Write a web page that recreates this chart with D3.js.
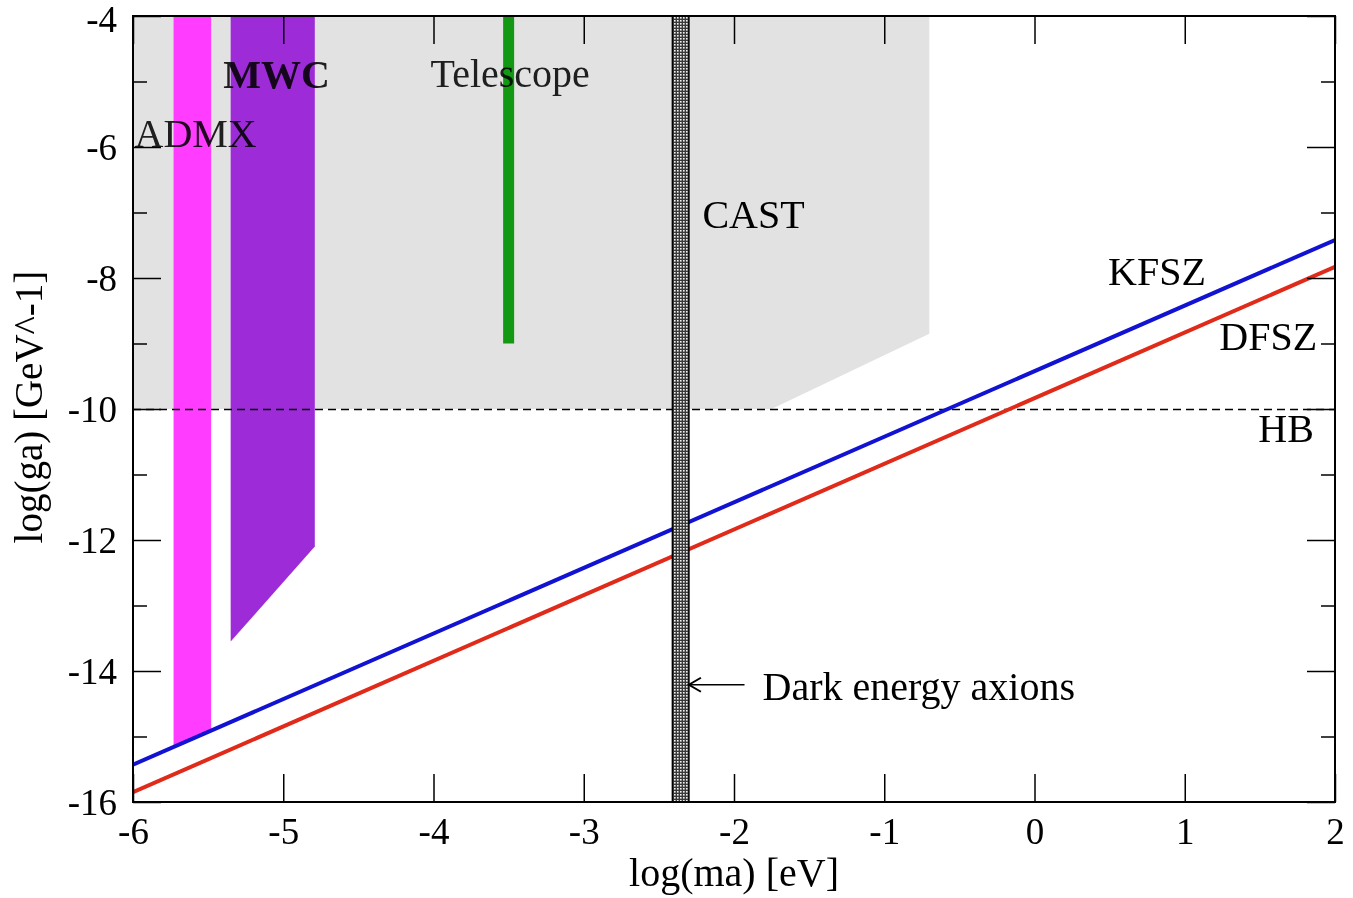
<!DOCTYPE html>
<html>
<head>
<meta charset="utf-8">
<script src="https://cdn.jsdelivr.net/npm/d3@7"></script>
<style>
  html, body { margin: 0; padding: 0; background: #fff; }
  svg { display: block; font-family: "Liberation Serif", "Times New Roman", serif; }
</style>
</head>
<body>
<div id="chart"></div>
<script>
// axis ticks
const xTickValues = [-6, -5, -4, -3, -2, -1, 0, 1, 2];
const yMajorTicks = [-4, -6, -8, -10, -12, -14, -16];
const yMinorTicks = [-5, -7, -9, -11, -13, -15];

// coupling lines, y = log(ga) at the two ends of the x range
const lineX = [-6, 2];
const ksvzY = [-15.43, -7.42];
const dfszY = [-15.85, -7.83];

// excluded regions (polygon vertices, data units)
const castX = [-6, -0.7, -0.7, -1.75, -6];
const castY = [-4, -4, -8.85, -10, -10];
const admxX = [-5.73, -5.48, -5.48, -5.73];
const admxY = [-4, -4, -14.9, -15.15];
const mwcX = [-5.35, -4.79, -4.79, -5.35];
const mwcY = [-4, -4, -12.1, -13.55];
const telescopeX = [-3.5, -3.5];
const telescopeY = [-4, -9];
const darkEnergyX = [-2.41, -2.30];
const hbY = -10;

// annotations: text, x, y (baseline, data units)
const labelText = ["ADMX", "MWC", "Telescope", "CAST", "KFSZ", "DFSZ", "HB", "Dark energy axions"];
const labelX = [-5.99, -5.40, -4.02, -2.21, 0.49, 1.23, 1.49, -1.81];
const labelY = [-6.0, -5.10, -5.08, -7.24, -8.11, -9.10, -10.50, -14.44];
const arrowX = [-1.93, -2.30];
const arrowY = -14.21;

const width = 1353, height = 898;
const margin = { top: 16, right: 18, bottom: 96, left: 133 };
const innerW = width - margin.left - margin.right;
const innerH = height - margin.top - margin.bottom;

const svg = d3.select("#chart").append("svg")
    .attr("width", width)
    .attr("height", height);

const defs = svg.append("defs");
const pat = defs.append("pattern")
    .attr("id", "checker")
    .attr("width", 3).attr("height", 3)
    .attr("patternUnits", "userSpaceOnUse");
pat.append("rect").attr("width", 3).attr("height", 3).attr("fill", "#3a3a3a");
pat.append("rect").attr("x", 1).attr("y", 1).attr("width", 1.6).attr("height", 1.6).attr("fill", "#f2f2f2");

defs.append("clipPath").attr("id", "plotclip")
    .append("rect").attr("width", innerW).attr("height", innerH);

const g = svg.append("g").attr("transform", `translate(${margin.left},${margin.top})`);

const x = d3.scaleLinear().domain([-6, 2]).range([0, innerW]);
const y = d3.scaleLinear().domain([-16, -4]).range([innerH, 0]);

const plot = g.append("g").attr("clip-path", "url(#plotclip)");

const poly = (xs, ys) => xs.map((v, i) => [x(v), y(ys[i])]);
const area = d3.line();

// grey excluded area
plot.append("path").attr("d", area(poly(castX, castY)) + "Z").attr("fill", "#e2e2e2");

const labels = labelText.map((t, i) => ({ t, x: labelX[i], y: labelY[i] }));

plot.append("path").attr("d", area(poly(admxX, admxY)) + "Z").attr("fill", "#ff3cff");
plot.append("path").attr("d", area(poly(mwcX, mwcY)) + "Z").attr("fill", "#9e2bd8");
plot.append("line")
    .attr("x1", x(telescopeX[0])).attr("x2", x(telescopeX[1]))
    .attr("y1", y(telescopeY[0])).attr("y2", y(telescopeY[1]))
    .attr("stroke", "#129812").attr("stroke-width", 11);

// HB dashed limit
plot.append("line")
    .attr("x1", 0).attr("x2", innerW)
    .attr("y1", Math.round(y(hbY)) + 0.5).attr("y2", Math.round(y(hbY)) + 0.5)
    .attr("stroke", "#000").attr("stroke-width", 1.3)
    .attr("stroke-dasharray", "8,5");

// KSVZ / DFSZ lines
const line = d3.line().x(d => x(d[0])).y(d => y(d[1]));
plot.append("path").datum(lineX.map((v, i) => [v, ksvzY[i]]))
    .attr("d", line).attr("fill", "none").attr("stroke", "#1212d2").attr("stroke-width", 4);
plot.append("path").datum(lineX.map((v, i) => [v, dfszY[i]]))
    .attr("d", line).attr("fill", "none").attr("stroke", "#e02a1a").attr("stroke-width", 4);

// dark energy axion band
plot.append("rect")
    .attr("x", x(darkEnergyX[0]))
    .attr("width", x(darkEnergyX[1]) - x(darkEnergyX[0]))
    .attr("y", 0).attr("height", innerH)
    .attr("fill", "url(#checker)")
    .attr("stroke", "#000").attr("stroke-width", 1.5);

// labels (the ones over coloured bands take a tint, as in the original)
g.selectAll("text.lbl").data(labels).enter().append("text")
    .attr("class", "lbl")
    .attr("x", d => x(d.x)).attr("y", d => y(d.y))
    .attr("font-size", 40)
    .attr("font-weight", d => d.t === "MWC" ? "bold" : "normal")
    .attr("fill", d => ["ADMX", "MWC", "Telescope"].includes(d.t) ? "#222" : "#000")
    .style("mix-blend-mode", d => ["ADMX", "MWC", "Telescope"].includes(d.t) ? "multiply" : null)
    .text(d => d.t);

// arrow to the dark energy band
g.append("line")
    .attr("x1", x(arrowX[0])).attr("x2", x(arrowX[1]))
    .attr("y1", y(arrowY)).attr("y2", y(arrowY))
    .attr("stroke", "#000").attr("stroke-width", 1.5);
g.append("path")
    .attr("d", `M${x(arrowX[1]) + 12},${y(arrowY) - 7}L${x(arrowX[1])},${y(arrowY)}L${x(arrowX[1]) + 12},${y(arrowY) + 7}`)
    .attr("fill", "none").attr("stroke", "#000").attr("stroke-width", 2);

// ticks, drawn inward on all four sides
const major = 28, minor = 14;
const xAxisB = g.append("g").attr("transform", `translate(0,${innerH})`)
    .call(d3.axisBottom(x).tickValues(xTickValues).tickSize(-major).tickFormat(d3.format("d")));
const xAxisT = g.append("g")
    .call(d3.axisTop(x).tickValues(xTickValues).tickSize(-major).tickFormat(""));
const yAxisL = g.append("g")
    .call(d3.axisLeft(y).tickValues(yMajorTicks).tickSize(-major).tickPadding(16).tickFormat(d3.format("d")));
const yAxisR = g.append("g").attr("transform", `translate(${innerW},0)`)
    .call(d3.axisRight(y).tickValues(yMajorTicks).tickSize(-major).tickFormat(""));
const yMinL = g.append("g")
    .call(d3.axisLeft(y).tickValues(yMinorTicks).tickSize(-minor).tickFormat(""));
const yMinR = g.append("g").attr("transform", `translate(${innerW},0)`)
    .call(d3.axisRight(y).tickValues(yMinorTicks).tickSize(-minor).tickFormat(""));

[xAxisB, xAxisT, yAxisL, yAxisR, yMinL, yMinR].forEach(a => {
    a.select(".domain").remove();
    a.selectAll(".tick line").attr("stroke", "#000").attr("stroke-width", 1.5);
    a.selectAll(".tick text")
        .attr("font-family", "Liberation Serif, serif")
        .attr("font-size", 37)
        .attr("fill", "#000");
});
xAxisB.selectAll(".tick text").attr("dy", "0.71em").attr("y", 16);
yAxisL.selectAll(".tick text").attr("dy", "0.35em")
    .attr("y", d => d === -4 ? 3 : 0);
// hyphen minus like the original
[xAxisB, yAxisL].forEach(a => a.selectAll(".tick text").text(d => String(d)));

// frame
g.append("rect")
    .attr("width", innerW).attr("height", innerH)
    .attr("fill", "none").attr("stroke", "#000").attr("stroke-width", 2);

// axis titles
svg.append("text")
    .attr("x", margin.left + x(-2)).attr("y", 886)
    .attr("text-anchor", "middle").attr("font-size", 40)
    .text("log(ma) [eV]");
svg.append("text")
    .attr("transform", `translate(42,${margin.top + y(-9.97)}) rotate(-90)`)
    .attr("text-anchor", "middle").attr("font-size", 39)
    .text("log(ga) [GeV^-1]");
</script>
</body>
</html>
